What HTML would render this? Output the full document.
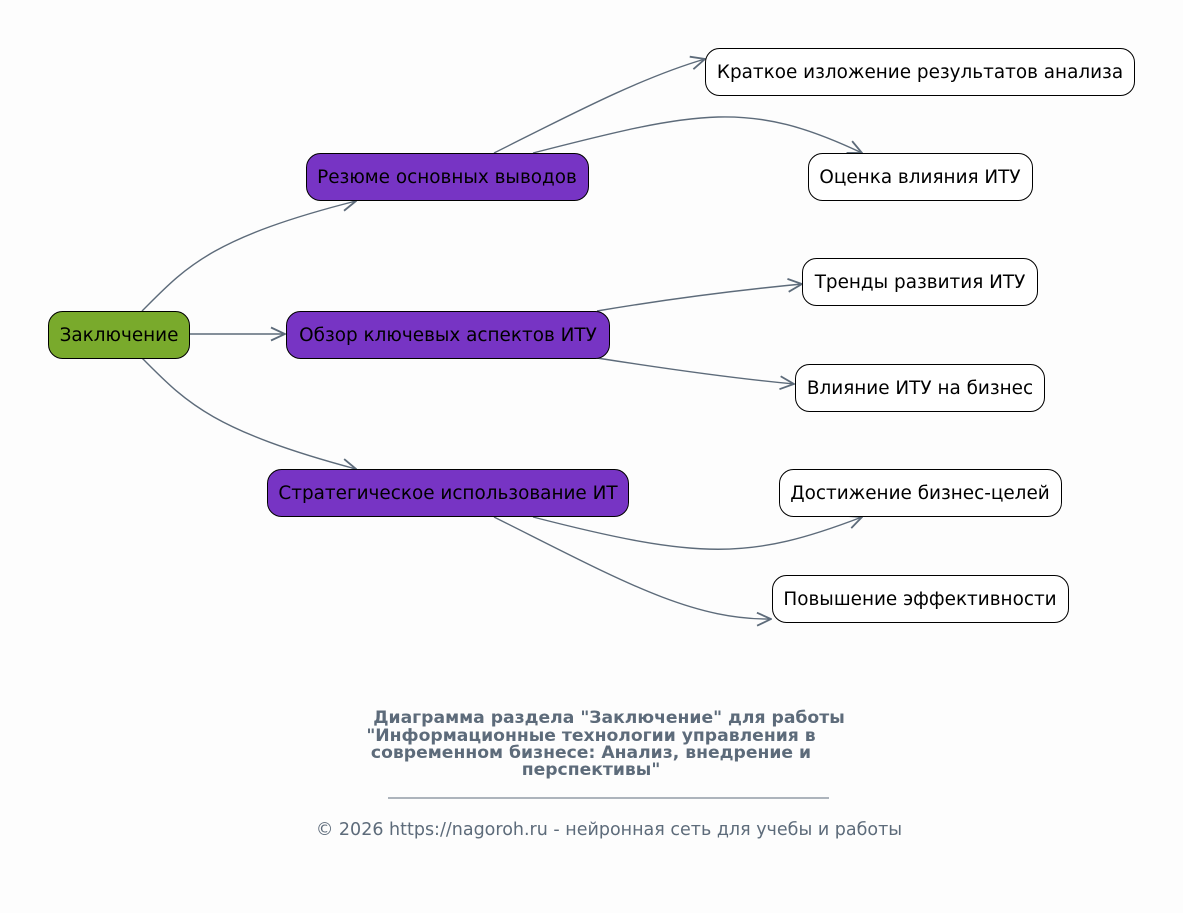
<!DOCTYPE html>
<html><head><meta charset="utf-8"><style>
html,body{margin:0;padding:0;background:#fdfdfd;}
svg{display:block;font-family:"DejaVu Sans","Liberation Sans",sans-serif;}
</style></head><body>
<svg width="1183" height="913" viewBox="0 0 1183 913" xmlns="http://www.w3.org/2000/svg">
<defs>
<marker id="a" viewBox="0 0 16 16" refX="15" refY="8" markerWidth="16" markerHeight="16" markerUnits="userSpaceOnUse" orient="auto">
<path d="M1,1.5 L15,8 L1,14.5" fill="none" stroke="#5d6b7a" stroke-width="1.8"/>
</marker>
</defs>
<rect width="1183" height="913" fill="#fdfdfd"/>
<g fill="none" stroke="#5d6b7a" stroke-width="1.4" marker-end="url(#a)">
<path d="M142,311 C185,268 210,238 356,201"/>
<path d="M189,334 L285,334"/>
<path d="M142,358 C185,401 210,430 356,469"/>
<path d="M494,153 C570,115 640,78 705,59"/>
<path d="M533,153 C700,110 750,100 862,153"/>
<path d="M597,311 C680,297 750,289 802,284"/>
<path d="M597,358 C680,371 740,379 794,384"/>
<path d="M533,517 C700,560 750,560 862,517"/>
<path d="M494,517 C620,580 690,620 771,619"/>
</g>
<g stroke="#000" stroke-width="1">
<rect x="48.5" y="311.5" width="141" height="47" rx="14" fill="#79aa2c"/>
<rect x="306.5" y="153.5" width="282" height="47" rx="14" fill="#7734c4"/>
<rect x="286.5" y="311.5" width="323" height="47" rx="14" fill="#7734c4"/>
<rect x="267.5" y="469.5" width="361" height="47" rx="14" fill="#7734c4"/>
<rect x="705.5" y="48.5" width="429" height="47" rx="14" fill="#fff"/>
<rect x="808.5" y="153.5" width="224" height="47" rx="14" fill="#fff"/>
<rect x="802.5" y="258.5" width="235" height="47" rx="14" fill="#fff"/>
<rect x="795.5" y="364.5" width="249" height="47" rx="14" fill="#fff"/>
<rect x="779.5" y="469.5" width="282" height="47" rx="14" fill="#fff"/>
<rect x="772.5" y="575.5" width="296" height="47" rx="14" fill="#fff"/>
</g>
<g font-size="18.4" fill="#000" text-anchor="middle">
<text x="119" y="341">Заключение</text>
<text x="447" y="183">Резюме основных выводов</text>
<text x="448" y="341">Обзор ключевых аспектов ИТУ</text>
<text x="448" y="499">Стратегическое использование ИТ</text>
<text x="920" y="78">Краткое изложение результатов анализа</text>
<text x="920" y="183">Оценка влияния ИТУ</text>
<text x="920" y="288">Тренды развития ИТУ</text>
<text x="920" y="394">Влияние ИТУ на бизнес</text>
<text x="920" y="499">Достижение бизнес-целей</text>
<text x="920" y="605">Повышение эффективности</text>
</g>
<g font-size="17.2" font-weight="bold" fill="#5d6b7a" text-anchor="middle">
<text x="609" y="723">Диаграмма раздела "Заключение" для работы</text>
<text x="591" y="741">"Информационные технологии управления в</text>
<text x="591" y="758">современном бизнесе: Анализ, внедрение и</text>
<text x="591" y="775">перспективы"</text>
</g>
<line x1="388" y1="798" x2="829" y2="798" stroke="#5d6b7a" stroke-width="1"/>
<text x="609" y="835" font-size="17.5" fill="#5d6b7a" text-anchor="middle">© 2026 https://nagoroh.ru - нейронная сеть для учебы и работы</text>
</svg>
</body></html>
